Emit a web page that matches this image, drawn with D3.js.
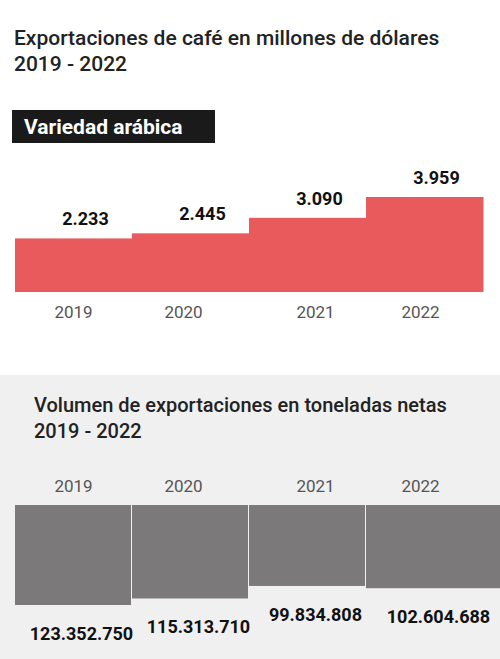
<!DOCTYPE html>
<html><head><meta charset="utf-8">
<script src="https://cdn.jsdelivr.net/npm/d3@7"></script>
<style>body{margin:0;background:#fff}text{font-family:Roboto,"Noto Sans",sans-serif}</style>
</head><body><svg id="c" width="500" height="659"></svg>
<script>
const years = ["2019","2020","2021","2022"];
const valueUSD = [2233, 2445, 3090, 3959];
const valueLabels = ["2.233","2.445","3.090","3.959"];
const tonnes = [123352750, 115313710, 99834808, 102604688];
const tonnesLabels = ["123.352.750","115.313.710","99.834.808","102.604.688"];

const svg = d3.select("#c");

// title
svg.append("text").attr("x",14).attr("y",45).attr("font-size",21).attr("font-weight",500).attr("fill","#222").text("Exportaciones de café en millones de dólares");
svg.append("text").attr("x",14).attr("y",71).attr("font-size",21).attr("font-weight",500).attr("fill","#222").text("2019 - 2022");

svg.append("rect").attr("x",12).attr("y",110).attr("width",203).attr("height",33).attr("fill","#1a1a1a");
svg.append("text").attr("x",24).attr("y",134).attr("font-size",21).attr("font-weight","bold").attr("fill","#fff").text("Variedad arábica");

// top chart
const x1 = d3.scaleBand(years,[15,483]);
const y1 = d3.scaleLinear([0,3959],[292,197]);
svg.append("g").selectAll("rect").data(valueUSD).join("rect")
  .attr("x",(d,i)=>x1(years[i])).attr("width",x1.bandwidth()+0.5)
  .attr("y",d=>y1(d)).attr("height",d=>y1(0)-y1(d)).attr("fill","#e85a5c");
svg.append("g").selectAll("text").data(valueUSD).join("text")
  .attr("x",(d,i)=>x1(years[i])+x1.bandwidth()/2+12).attr("y",d=>y1(d)-13)
  .attr("text-anchor","middle").attr("font-size",18).attr("font-weight","bold").attr("fill","#111")
  .text((d,i)=>valueLabels[i]);
const xOff = [0,-7,8,-4];
const ax1 = svg.append("g").attr("transform","translate(0,292)").call(d3.axisBottom(x1).tickSize(0).tickPadding(14));
ax1.select(".domain").remove();
ax1.selectAll("text").attr("font-size",17).attr("fill","#555").attr("dx",(d,i)=>xOff[i]).style("font-family","Roboto,sans-serif");

// bottom panel
svg.append("rect").attr("x",0).attr("y",375).attr("width",500).attr("height",284).attr("fill","#f0f0f0");
svg.append("text").attr("x",34).attr("y",412).attr("font-size",20).attr("font-weight",500).attr("fill","#222").text("Volumen de exportaciones en toneladas netas");
svg.append("text").attr("x",34).attr("y",438).attr("font-size",20).attr("font-weight",500).attr("fill","#222").text("2019 - 2022");

const y2 = d3.scaleLinear([0,123352750],[505,605]);
svg.append("g").selectAll("rect").data(tonnes).join("rect")
  .attr("x",(d,i)=>x1(years[i])).attr("width",(d,i)=>i===3 ? 500-x1(years[i]) : x1.bandwidth()-1)
  .attr("y",505).attr("height",d=>y2(d)-505).attr("fill","#7b7979");
svg.append("g").selectAll("text").data(tonnes).join("text")
  .attr("x",(d,i)=>x1(years[i])+x1.bandwidth()/2+(i===3?14:8)).attr("y",d=>y2(d)+35)
  .attr("text-anchor","middle").attr("font-size",18).attr("font-weight","bold").attr("fill","#111")
  .text((d,i)=>tonnesLabels[i]);
const ax2 = svg.append("g").attr("transform","translate(0,480)").call(d3.axisBottom(x1).tickSize(0).tickPadding(0));
ax2.select(".domain").remove();
ax2.selectAll("text").attr("font-size",17).attr("fill","#555").attr("dx",(d,i)=>xOff[i]).style("font-family","Roboto,sans-serif");
</script></body></html>
